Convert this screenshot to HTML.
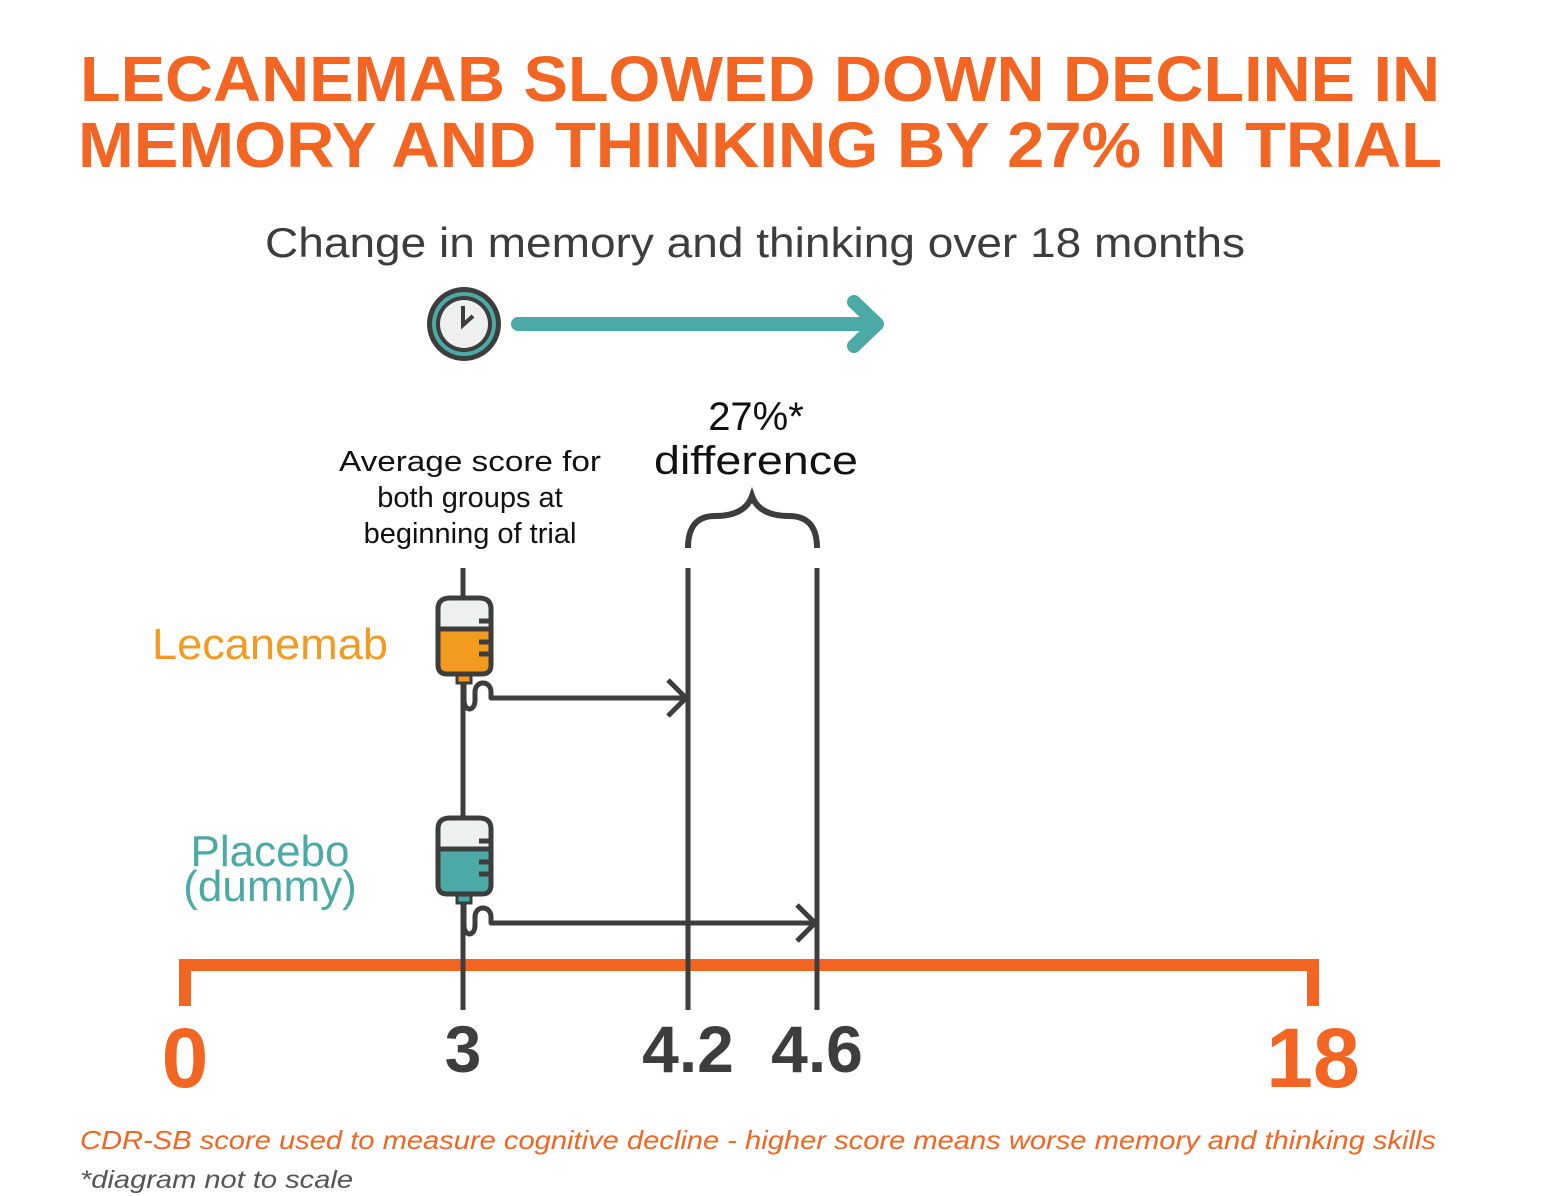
<!DOCTYPE html>
<html><head><meta charset="utf-8"><style>
body{margin:0;background:#fff}
svg{display:block;font-family:"Liberation Sans",sans-serif}
</style></head><body>
<svg id="c" width="1554" height="1196" viewBox="0 0 1554 1196">
<g fill="#F26522" font-weight="bold" font-size="64">
<text x="80" y="101" textLength="1360" lengthAdjust="spacingAndGlyphs">LECANEMAB SLOWED DOWN DECLINE IN</text>
<text x="78" y="167" textLength="1364" lengthAdjust="spacingAndGlyphs">MEMORY AND THINKING BY 27% IN TRIAL</text>
</g>
<text x="755" y="257" text-anchor="middle" font-size="42" fill="#3d3d3d" textLength="980" lengthAdjust="spacingAndGlyphs">Change in memory and thinking over 18 months</text>
<g>
<circle cx="464" cy="324" r="37" fill="#3d3d3d"/>
<circle cx="464" cy="324" r="32" fill="#4BAAA5"/>
<circle cx="464" cy="324" r="28" fill="#3d3d3d"/>
<circle cx="464" cy="324" r="24" fill="#eef0f0"/>
<path d="M463 306 V325 L473 316" stroke="#3d3d3d" stroke-width="4" fill="none"/>
</g>
<g stroke="#4BAAA5" stroke-width="14" stroke-linecap="round" fill="none">
<path d="M518 324 H874"/><path d="M854 302 L877 324 L854 346" stroke-linejoin="round"/>
</g>
<g font-size="29" fill="#111" text-anchor="middle">
<text x="470" y="471" textLength="262" lengthAdjust="spacingAndGlyphs">Average score for</text><text x="470" y="507">both groups at</text><text x="470" y="543">beginning of trial</text>
</g>
<g font-size="40" fill="#111" text-anchor="middle">
<text x="756" y="430">27%*</text><text x="756" y="474" textLength="204" lengthAdjust="spacingAndGlyphs">difference</text>
</g>
<path d="M688 548 Q688 516 715 516 Q745 516 752 496 Q759 516 789 516 Q817 516 817 548" stroke="#3d3d3d" stroke-width="6" fill="none"/>
<text x="270" y="659" text-anchor="middle" font-size="44" fill="#F39B21" textLength="236" lengthAdjust="spacingAndGlyphs">Lecanemab</text>
<g font-size="44" fill="#4BAAA5" text-anchor="middle">
<text x="270" y="866">Placebo</text><text x="270" y="901">(dummy)</text>
</g>
<g id="marks"></g>
<text x="80" y="1149" font-size="26" font-style="italic" fill="#F26522" textLength="1356" lengthAdjust="spacingAndGlyphs">CDR-SB score used to measure cognitive decline - higher score means worse memory and thinking skills</text>
<text x="80" y="1188" font-size="25" font-style="italic" fill="#555" textLength="273" lengthAdjust="spacingAndGlyphs">*diagram not to scale</text>
</svg>
<script>
const tickValues=[0,3,4.2,4.6,18];
const tickLabels=["0","3","4.2","4.6","18"];
const groups=["Lecanemab","Placebo"];
const startScores=[3,3];
const endScores=[4.2,4.6];
// not-to-scale display axis (piecewise)
const domain=[0,3,4.2,4.6,18], range=[185,463,688,817,1313];
function x(v){for(let i=0;i<domain.length-1;i++){if(v<=domain[i+1]||i===domain.length-2){const t=(v-domain[i])/(domain[i+1]-domain[i]);return range[i]+t*(range[i+1]-range[i]);}}}
const NS="http://www.w3.org/2000/svg",g=document.getElementById('marks');
function mk(t,a){const e=document.createElementNS(NS,t);for(const k in a)e.setAttribute(k,a[k]);g.appendChild(e);return e;}
const x0=x(0),x1=x(18);
let ax=mk('path',{d:`M${x0} 1006 V965 H${x1} V1006`,stroke:'#F26522','stroke-width':12,fill:'none'});


tickValues.forEach((v,i)=>{
 const end=(i===0||i===tickValues.length-1);
 if(!end){let l=mk('line',{x1:x(v),x2:x(v),y1:568,y2:1010,stroke:'#3d3d3d','stroke-width':5});
 
 }
 let t=mk('text',{x:x(v),y:end?1087:1072,'text-anchor':'middle','font-size':end?84:66,'font-weight':'bold',fill:end?'#F26522':'#3d3d3d'});
 t.textContent=tickLabels[i];
 
 
});
const bagTop=[597,817], arrowOff=[101,106], fills=['#F39B21','#4BAAA5'];
groups.forEach((gname,i)=>{
 const sx=x(startScores[i]),ex=x(endScores[i]),y0=bagTop[i],ay=y0+arrowOff[i];
 const bag=document.createElementNS(NS,'g');g.appendChild(bag);
 
 
 const add=(t,a)=>{const e=document.createElementNS(NS,t);for(const k in a)e.setAttribute(k,a[k]);bag.appendChild(e);};
 const L=sx-25,R=sx+28;
 add('path',{d:`M${L} ${y0+32} H${R} V${y0+68} Q${R} ${y0+77} ${R-9} ${y0+77} H${L+9} Q${L} ${y0+77} ${L} ${y0+68}Z`,fill:fills[i]});
 add('path',{d:`M${L} ${y0+32} V${y0+13} Q${L} ${y0+2} ${L+12} ${y0+2} H${R-12} Q${R} ${y0+2} ${R} ${y0+13} V${y0+32}Z`,fill:'#eef0f0'});
 add('rect',{x:sx-6,y:y0+78,width:14,height:8,fill:fills[i],stroke:'#3d3d3d','stroke-width':3});
 add('path',{d:`M${L} ${y0+12} Q${L} ${y0+1} ${L+12} ${y0+1} H${R-12} Q${R} ${y0+1} ${R} ${y0+12} V${y0+68} Q${R} ${y0+77} ${R-9} ${y0+77} H${L+9} Q${L} ${y0+77} ${L} ${y0+68}Z M${L} ${y0+32} H${R} M${R} ${y0+24} H${R-12} M${R} ${y0+45} H${R-12} M${R} ${y0+57} H${R-12}`,fill:'none',stroke:'#3d3d3d','stroke-width':5});
 let arr=mk('path',{d:`M${sx+1} ${y0+86} V${ay+2} C${sx+1} ${ay+14} ${sx+12} ${ay+14} ${sx+12} ${ay+2} V${ay-6} C${sx+12} ${ay-18} ${sx+28} ${ay-18} ${sx+28} ${ay-6} V${ay} H${ex-3} M${ex-20} ${ay-18} L${ex-2} ${ay} L${ex-20} ${ay+18}`,fill:'none',stroke:'#3d3d3d','stroke-width':5,'stroke-linejoin':'round'});
 
 
});
</script>
</body></html>
